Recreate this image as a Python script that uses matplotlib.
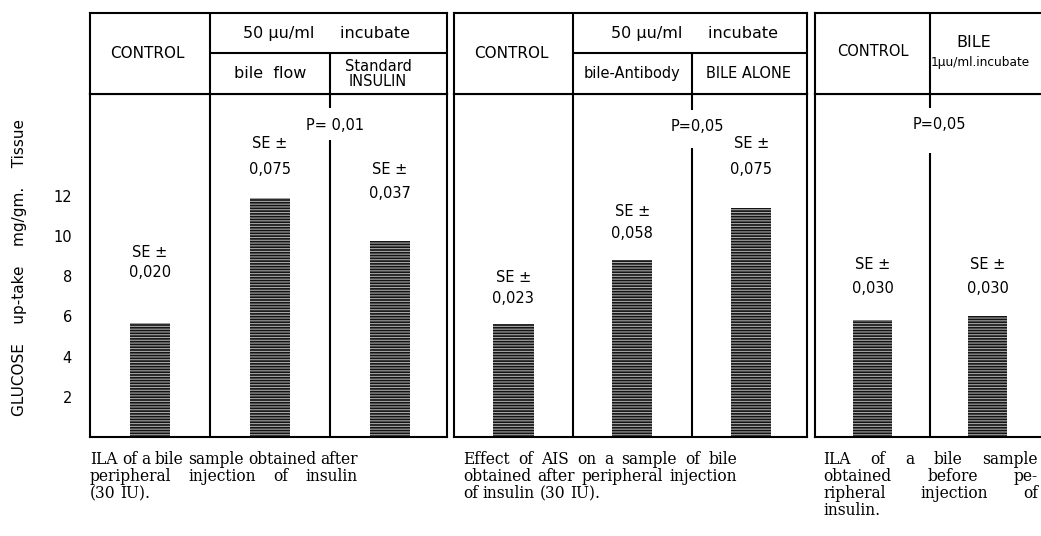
import matplotlib
matplotlib.use("Agg")
import matplotlib.pyplot as plt

# values (glucose up-take, mg/gm tissue)
panel1_values = [5.65, 11.9, 9.75]
panel1_se = ["0,020", "0,075", "0,037"]
panel2_values = [5.6, 8.8, 11.4]
panel2_se = ["0,023", "0,058", "0,075"]
panel3_values = [5.8, 6.0]
panel3_se = ["0,030", "0,030"]
p_labels = ["P= 0,01", "P=0,05", "P=0,05"]
y_ticks = [2, 4, 6, 8, 10, 12]

captions = [
    ["ILA of a bile sample obtained after",
     "peripheral injection of insulin",
     "(30 IU)."],
    ["Effect of AIS on a sample of bile",
     "obtained after peripheral injection",
     "of insulin (30 IU)."],
    ["ILA of a bile sample",
     "obtained before pe-",
     "ripheral injection of",
     "insulin."],
]

# layout (figure pixels) ---------------------------------------------
W, H = 1041, 536
TOP, HDR, BOT = 13, 94, 437
panel_px = [(90, 447), (454, 807), (815, 1045)]
panel_xlim = [(-0.5, 2.475), (-0.5, 2.47), (-0.5, 1.5)]
# label heights in data units (SE line, value line)
se_y = [[9.2, 14.6, 13.3], [7.96, 11.24, 14.6], [8.6, 8.6]]
val_y = [[8.2, 13.3, 12.1], [6.87, 10.1, 13.33], [7.41, 7.41]]
p_xy = [(1.54, 15.5), (1.55, 15.47), (0.578, 15.57)]
gap = [(14.78, 16.37), (14.38, 16.27), (14.13, 16.37)]
YTOP = (BOT - HDR) / 20.1

SANS = ["DejaVu Sans"]
SERIF = ["DejaVu Serif"]
FS = 10.5
LW = 1.5
plt.rcParams["hatch.linewidth"] = 0.8

fig = plt.figure(figsize=(W / 100, H / 100), dpi=100)


def add_ax(x0, x1, y0, y1):
    return fig.add_axes([x0 / W, 1 - y1 / H, (x1 - x0) / W, (y1 - y0) / H])


values = [panel1_values, panel2_values, panel3_values]
ses = [panel1_se, panel2_se, panel3_se]
bodies, headers = [], []
for i, (x0, x1) in enumerate(panel_px):
    ax = add_ax(x0, x1, HDR, BOT)
    hx = add_ax(x0, x1, TOP, HDR)
    for a in (ax, hx):
        a.set_xlim(*panel_xlim[i])
        a.set_xticks([])
        for s in a.spines.values():
            s.set_linewidth(LW)
            s.set_color("black")
    ax.set_ylim(0, YTOP)
    hx.set_ylim(0, 1)
    hx.set_yticks([])
    ax.tick_params(axis="y", length=0, pad=13, labelsize=FS)
    if i == 0:
        ax.set_yticks(y_ticks)
        ax.set_yticklabels([str(t) for t in y_ticks], family=SANS)
    else:
        ax.set_yticks([])
    xs = list(range(len(values[i])))
    ax.bar(xs, values[i], width=0.34, color="#141414", edgecolor="#a8a8a8",
           linewidth=0, hatch="------")
    for x, v, sy, vy in zip(xs, ses[i], se_y[i], val_y[i]):
        ax.text(x, sy, "SE \u00b1", ha="center", va="center", fontsize=FS, family=SANS)
        ax.text(x, vy, v, ha="center", va="center", fontsize=FS, family=SANS)
    # column dividers in the body
    if len(xs) == 3:
        ax.vlines(0.5, 0, YTOP, color="black", lw=LW)
        dx = 1.5
    else:
        dx = 0.5
    lo, hi = gap[i]
    ax.vlines(dx, 0, lo, color="black", lw=LW)
    ax.vlines(dx, hi, YTOP, color="black", lw=LW)
    px, py = p_xy[i]
    ax.text(px, py, p_labels[i], ha="center", va="center", fontsize=FS, family=SANS)
    bodies.append(ax)
    headers.append(hx)

# header cells
for hx in headers[:2]:
    hx.vlines(0.5, 0, 1, color="black", lw=LW)
    hx.hlines(0.506, 0.5, 3, color="black", lw=LW)
    hx.vlines(1.5, 0, 0.506, color="black", lw=LW)
    hx.text(-0.02, 0.5, "CONTROL", ha="center", va="center", fontsize=FS + 0.5, family=SANS)

h1, h2, h3 = headers
h1.text(1.47, 0.753, "50 \u00b5u/ml     incubate", ha="center", va="center", fontsize=FS + 1, family=SANS)
h1.text(1.0, 0.247, "bile  flow", ha="center", va="center", fontsize=FS + 1, family=SANS)
h1.text(1.9, 0.247, "Standard\nINSULIN", ha="center", va="center", fontsize=FS,
        family=SANS, linespacing=0.95)
h2.text(1.52, 0.753, "50 \u00b5u/ml     incubate", ha="center", va="center", fontsize=FS + 1, family=SANS)
h2.text(1.0, 0.247, "bile-Antibody", ha="center", va="center", fontsize=FS, family=SANS)
h2.text(1.98, 0.247, "BILE ALONE", ha="center", va="center", fontsize=FS, family=SANS)
h3.vlines(0.5, 0, 1, color="black", lw=LW)
h3.text(0.0, 0.53, "CONTROL", ha="center", va="center", fontsize=FS, family=SANS)
h3.text(0.88, 0.63, "BILE", ha="center", va="center", fontsize=FS + 1, family=SANS)
h3.text(0.51, 0.395, "1\u00b5u/ml.incubate", ha="left", va="center", fontsize=FS - 1.8,
        family=SANS)

fig.text(20 / W, 1 - 268 / H, "GLUCOSE    up-take    mg/gm.    Tissue", rotation=90,
         ha="center", va="center", fontsize=FS + 0.5, family=SANS)

# captions, justified like the printed page
renderer = fig.canvas.get_renderer()
cap_x = [(90, 358), (463, 737), (823, 1038)]

# font size so that the tightest printed line fills its column
probe = fig.text(0, 0, captions[1][1], fontsize=10, family=SERIF)
cap_fs = 10 * (cap_x[1][1] - cap_x[1][0]) / probe.get_window_extent(renderer).width
probe.remove()
space = fig.text(0, 0, "a a", fontsize=cap_fs, family=SERIF)
nospace = fig.text(0, 0, "aa", fontsize=cap_fs, family=SERIF)
sp_w = space.get_window_extent(renderer).width - nospace.get_window_extent(renderer).width
space.remove()
nospace.remove()

for (cx0, cx1), lines in zip(cap_x, captions):
    for j, line in enumerate(lines):
        y = 460 + j * 16.8
        words = line.split()
        txts = [fig.text(0, 1 - y / H, w, ha="left", va="center", fontsize=cap_fs,
                         family=SERIF) for w in words]
        widths = [t.get_window_extent(renderer).width for t in txts]
        last = j == len(lines) - 1
        if len(words) > 1 and not last:
            g = (cx1 - cx0 - sum(widths)) / (len(words) - 1)
        else:
            g = sp_w
        x = cx0
        for t, w in zip(txts, widths):
            t.set_x(x / W)
            x += w + g

fig.savefig("out.png", dpi=100)
